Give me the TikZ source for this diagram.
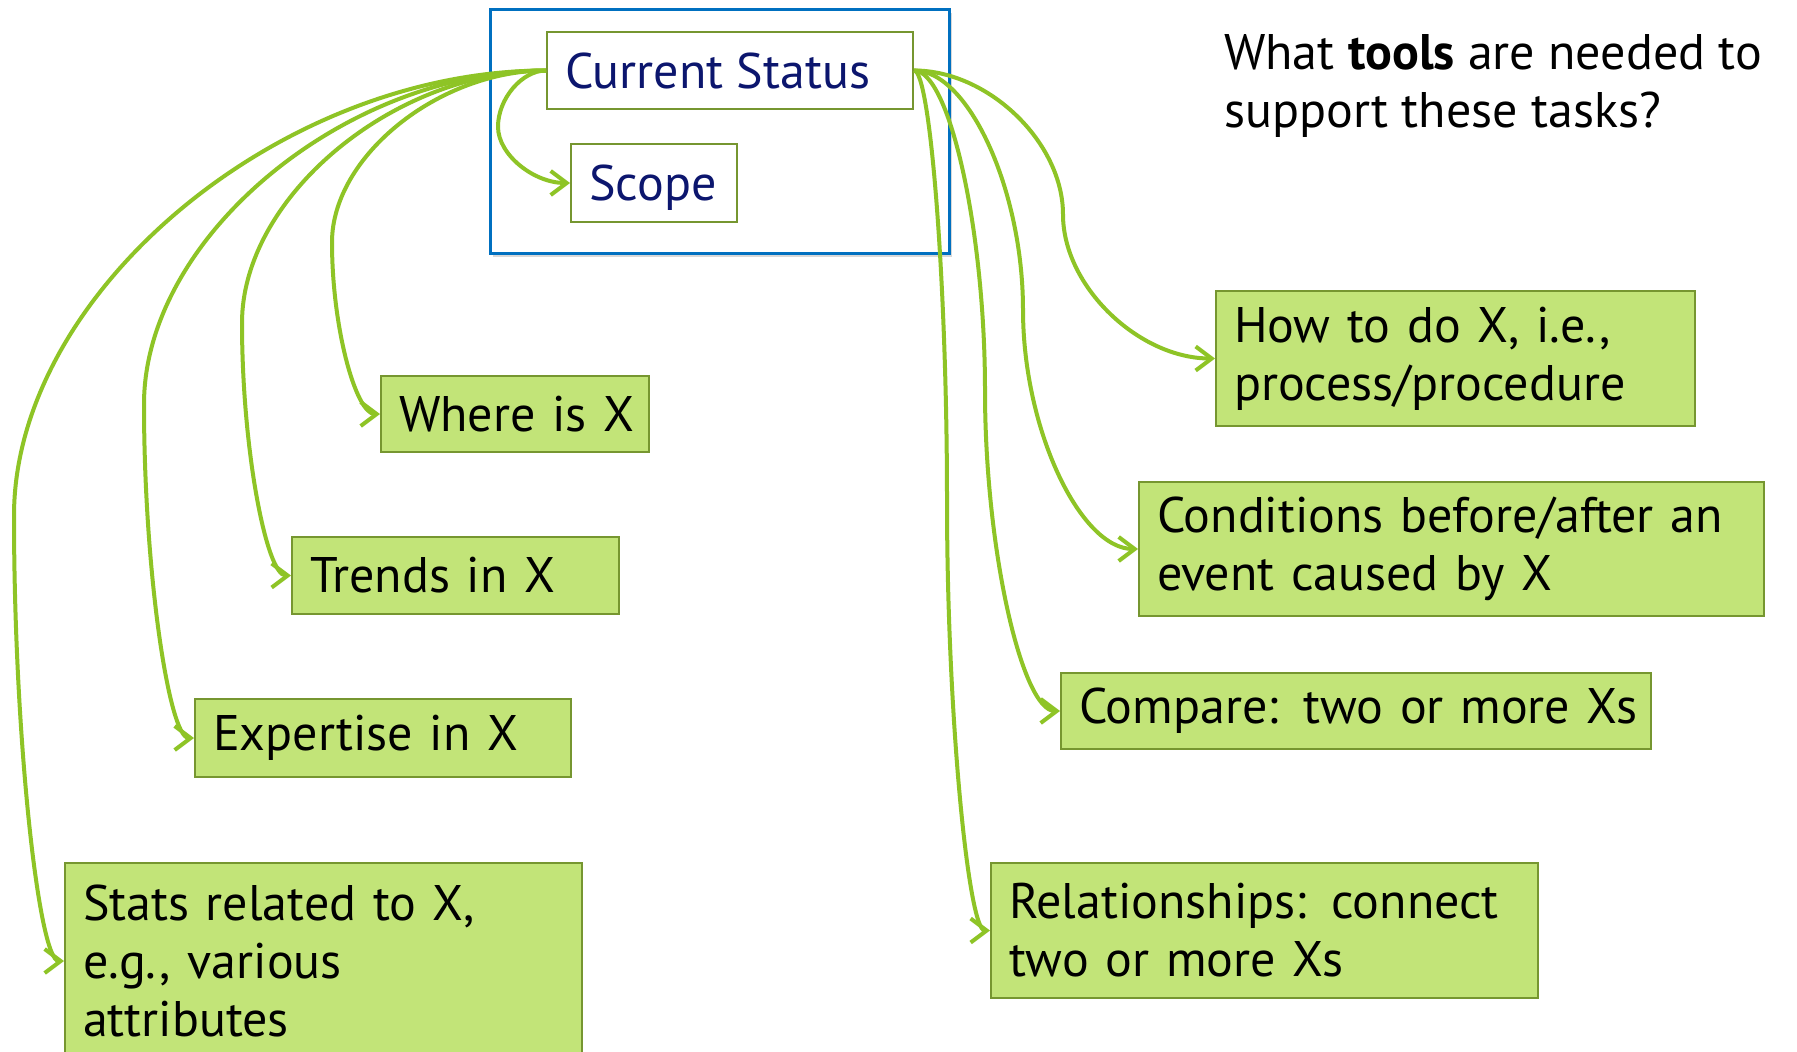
\documentclass[tikz,border=0pt]{standalone}
\usepackage{fontspec}
\setmainfont{PT Sans}
\usetikzlibrary{arrows.meta,calc,shadows}
\definecolor{conncol}{RGB}{142,196,38}
\definecolor{gfill}{RGB}{194,228,120}
\definecolor{gborder}{RGB}{118,150,48}
\definecolor{navy}{RGB}{12,22,110}
\definecolor{bluebox}{RGB}{0,112,192}
\tikzset{
  gbox/.style={draw=gborder, line width=2pt, fill=gfill, align=left, inner xsep=18pt,
    inner ysep=0pt, font=\fontsize{50}{58}\selectfont, anchor=north west, text=black},
  wbox/.style={draw=gborder, line width=2pt, fill=white, inner sep=0pt,
    font=\fontsize{50}{58}\selectfont, text=navy, anchor=north west},
  conn/.style={draw=conncol, line width=4pt, -{Straight Barb[length=16pt,width=24pt]}},
}
% curved connector: from #1 to #2 with middle x = #3
\newcommand\cconn[3]{%
  \draw[conn] let \p1=(#1), \p2=(#2) in
    (\p1) .. controls ({(\x1+#3pt)/2},\y1) and (#3pt,{0.75*\y1+0.25*\y2}) ..
    (#3pt,{0.5*\y1+0.5*\y2}) .. controls (#3pt,{0.25*\y1+0.75*\y2}) and ({(#3pt+\x2)/2},\y2) ..
    (\p2);}
\begin{document}
\begin{tikzpicture}[x=1pt,y=-1pt]
\useasboundingbox (0,0) rectangle (1797,1052);
\fill[white] (0,0) rectangle (1797,1052);

% blue frame with shadow
\node[draw=bluebox, line width=2.5pt, fill=white, minimum width=459pt, minimum height=244pt,
  anchor=north west, inner sep=0pt,
  drop shadow={shadow xshift=3pt, shadow yshift=-4pt, opacity=0.25, fill=black!60}] (frame) at (489,8) {};

\node[wbox, minimum width=366pt, minimum height=77pt] (cs) at (546,31) {};
\node[font=\fontsize{50}{58}\selectfont, text=navy, anchor=base west, inner sep=0pt] (cstext) at (565,88) {Current Status};
\node[wbox, minimum width=166pt, minimum height=78pt] (scope) at (570,143) {};
\node[font=\fontsize{50}{58}\selectfont, text=navy, anchor=base west, inner sep=0pt] (scopetext) at (589,200) {Scope};

% green boxes
\node[gbox, text width=443pt, minimum height=135pt] (howto) at (1215,290) {\mbox{How to do X, i.e.,}\\\mbox{process/procedure}};
\node[gbox, text width=589pt, minimum height=134pt] (cond) at (1138,481) {\mbox{Conditions before/after an}\\\mbox{event caused by X}};
\node[gbox, text width=554pt, minimum height=76pt] (comp) at (1060,672) {\mbox{Compare: two or more Xs}};
\node[gbox, text width=511pt, minimum height=135pt] (rel) at (990,862) {\mbox{Relationships: connect}\\\mbox{two or more Xs}};
\node[gbox, text width=232pt, minimum height=76pt] (where) at (380,375) {\mbox{Where is X}};
\node[gbox, text width=291pt, minimum height=77pt] (trends) at (291,536) {\mbox{Trends in X}};
\node[gbox, text width=340pt, minimum height=78pt] (expert) at (194,698) {\mbox{Expertise in X}};
\node[gbox, text width=481pt, minimum height=196pt] (stats) at (64,862) {\mbox{Stats related to X,}\\\mbox{e.g., various}\\\mbox{attributes}};

% question text
\node[anchor=north west, align=left, inner sep=0pt, font=\fontsize{50}{58}\selectfont] (question) at (1224,34)
  {What \textbf{tools} are needed to\\support these tasks?};

% connectors
\cconn{cs.west}{scope.west}{498}
\cconn{cs.west}{where.west}{332}
\cconn{cs.west}{trends.west}{242}
\cconn{cs.west}{expert.west}{144}
\cconn{cs.west}{stats.west}{14}
\cconn{cs.east}{howto.west}{1063}
\cconn{cs.east}{cond.west}{1023}
\cconn{cs.east}{comp.west}{985}
\cconn{cs.east}{rel.west}{947}
\end{tikzpicture}
\end{document}
